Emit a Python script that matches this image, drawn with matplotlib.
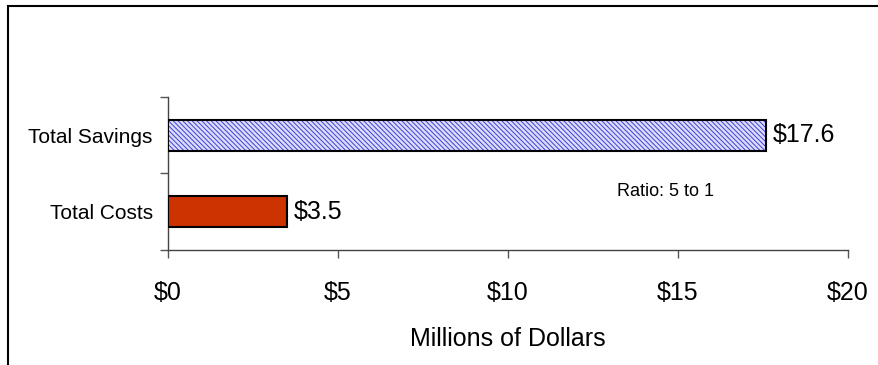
import matplotlib.pyplot as plt
from matplotlib.patches import Rectangle

plt.rcParams['font.family'] = ['Liberation Sans', 'DejaVu Sans']
plt.rcParams['hatch.linewidth'] = 0.7

# Data (millions of dollars)
categories = ['Total Costs', 'Total Savings']
values = [3.5, 17.6]
value_labels = ['$3.5', '$17.6']
xticks = [0, 5, 10, 15, 20]
xtick_labels = ['$0', '$5', '$10', '$15', '$20']

fig = plt.figure(figsize=(8.79, 3.65), dpi=100)
ax = fig.add_axes([168/879, 1-250/365, 680/879, 153/365])

ypos = [0, 1]
# costs bar
ax.barh(ypos[0], values[0], height=0.41, color='#cc3300', edgecolor='black', linewidth=1.5, zorder=3)
# savings bar: hatch layer then outline
ax.barh(ypos[1], values[1], height=0.41, color='#dcdcff', edgecolor='#4040d0', hatch='\\\\\\\\\\\\\\', linewidth=0, zorder=3)
ax.barh(ypos[1], values[1], height=0.41, color='none', edgecolor='black', linewidth=1.5, zorder=4)

for y, v, lab in zip(ypos, values, value_labels):
    ax.text(v + 0.2, y, lab, va='center', ha='left', fontsize=18)

ax.text(13.2, 0.27, 'Ratio: 5 to 1', fontsize=13, va='center', ha='left')

ax.set_xlim(0, 20)
ax.set_ylim(-0.5, 1.5)
ax.set_xticks(xticks)
ax.set_xticklabels(xtick_labels, fontsize=18)
ax.set_yticks([-0.5, 0.5, 1.5])
ax.set_yticklabels([])
ax.set_yticks(ypos, minor=True)
ax.set_yticklabels(categories, minor=True, fontsize=15)
ax.tick_params(axis='y', which='minor', length=0, pad=11)
ax.tick_params(axis='y', which='major', length=6, width=1, color='#555555')
ax.tick_params(axis='x', length=6, width=1, color='#555555', pad=16)
ax.set_xlabel('Millions of Dollars', fontsize=18, labelpad=16)

for s in ['top', 'right']:
    ax.spines[s].set_visible(False)
for s in ['left', 'bottom']:
    ax.spines[s].set_color('#444444')
    ax.spines[s].set_linewidth(1)

# outer frame (left and top edges visible)
fig.add_artist(Rectangle((8/879, -0.1), 1.1, 1.1 - 6/365, transform=fig.transFigure,
                         fill=False, edgecolor='black', linewidth=1.5))

fig.savefig('out.png', dpi=100)
